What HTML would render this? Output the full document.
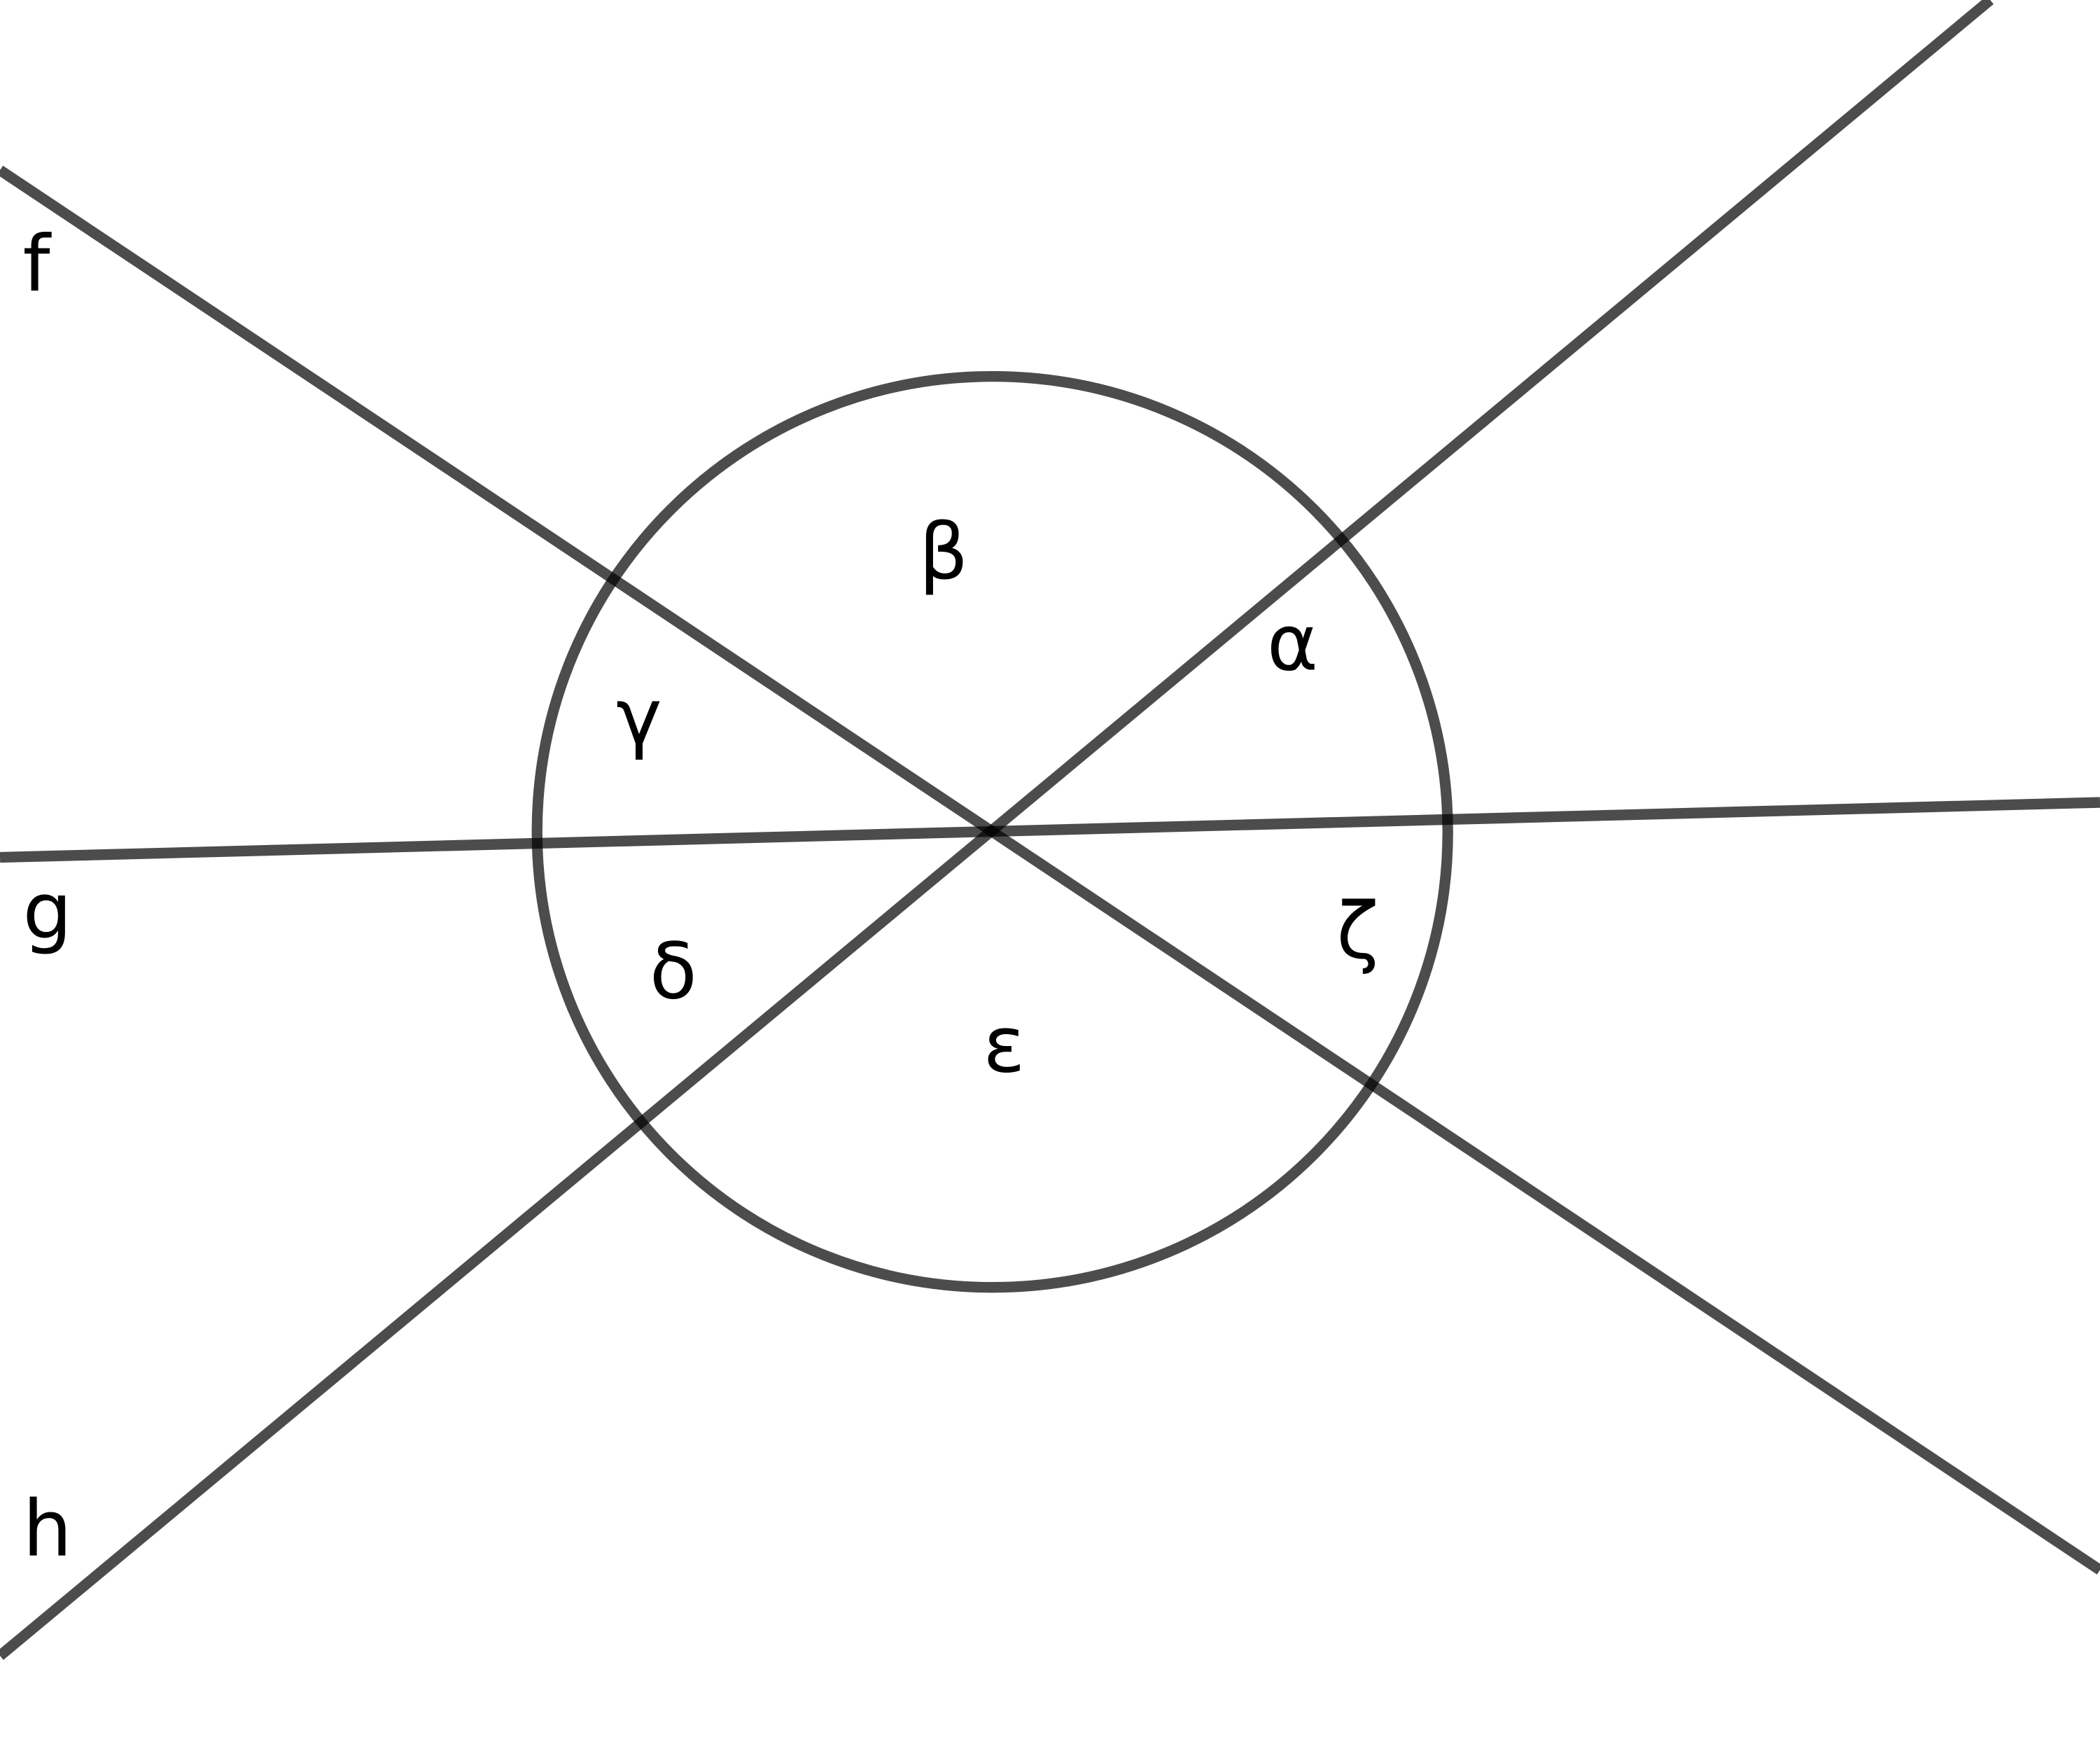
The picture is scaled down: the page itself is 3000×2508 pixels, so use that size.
<!DOCTYPE html>
<html><head><meta charset="utf-8"><style>html,body{margin:0;padding:0;background:#fff}svg{display:block}</style></head>
<body>
<svg width="3000" height="2508" viewBox="0 0 1568 1310.8" preserveAspectRatio="none" xmlns="http://www.w3.org/2000/svg">
<g stroke="#000" stroke-opacity="0.7" stroke-width="8" fill="none">
<line x1="0" y1="127" x2="1568" y2="1172"/>
<line x1="0" y1="640" x2="1568" y2="599"/>
<line x1="0" y1="1236" x2="1486" y2="0"/>
<ellipse cx="741" cy="621" rx="340" ry="340"/>
</g>
<g font-family="DejaVu Sans, Liberation Sans, sans-serif" font-size="58" fill="#000">
<text x="17" y="217">f</text>
<text x="17" y="700">g</text>
<text x="17" y="1161">h</text>
<text x="686" y="432">β</text>
<text x="946" y="500">α</text>
<text x="460" y="555">γ</text>
<text x="485" y="745">δ</text>
<text x="734" y="800">ε</text>
<text x="998" y="715">ζ</text>
</g>
</svg>
</body></html>
